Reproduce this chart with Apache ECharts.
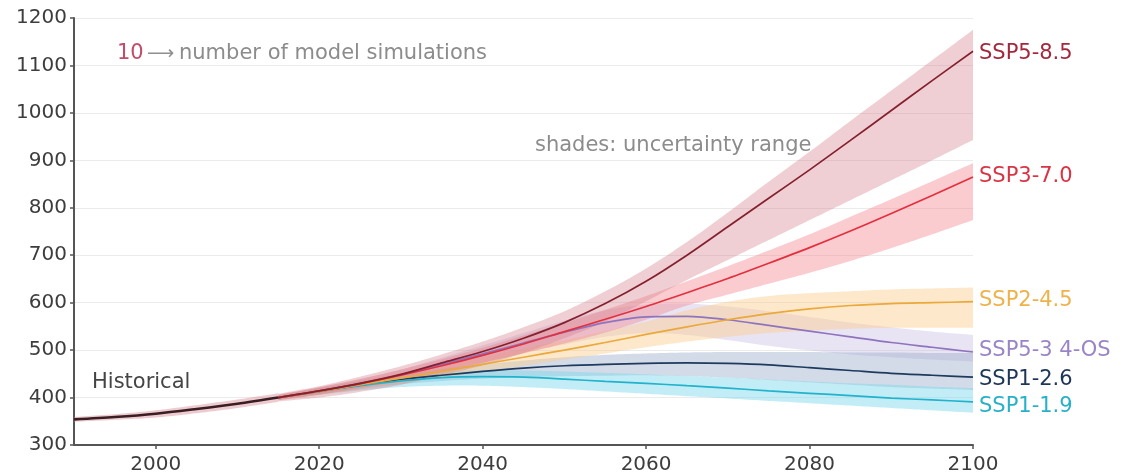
<!DOCTYPE html>
<html>
<head>
<meta charset="utf-8">
<script src="https://cdn.jsdelivr.net/npm/echarts@6/dist/echarts.min.js"></script>
<style>
  html, body { margin: 0; padding: 0; background: #ffffff; }
  #chart { width: 1121px; height: 476px; }
</style>
</head>
<body>
<div id="chart"></div>
<script>
// Atmospheric CO2 concentration (ppm): observed history and SSP scenario projections
const histYears = [1990, 1995, 2000, 2005, 2010, 2015];
const histMid   = [354, 359, 366, 376, 387, 400];
const histLow   = [349, 353, 358, 367, 378, 391];
const histHigh  = [359, 365, 373, 384, 396, 409];

const years = [2015, 2020, 2025, 2030, 2035, 2040, 2045, 2050, 2055, 2060,
               2065, 2070, 2075, 2080, 2085, 2090, 2095, 2100];

const ssp585Mid  = [400, 414, 430, 449, 473, 497, 525, 558, 598, 645, 700, 760, 820, 880, 942, 1005, 1068, 1130];
const ssp585Low  = [392, 400, 412, 427, 447, 468, 494, 525, 560, 603, 648, 690, 732, 774, 816, 858, 900, 943];
const ssp585High = [408, 424, 444, 466, 491, 518, 548, 582, 624, 672, 728, 790, 855, 918, 983, 1047, 1111, 1175];

const ssp370Mid  = [400, 414, 429, 447, 467, 489, 513, 539, 565, 592, 621, 651, 683, 716, 751, 788, 826, 865];
const ssp370Low  = [394, 406, 420, 436, 454, 473, 493, 514, 537, 564, 594, 617, 640, 663, 688, 715, 744, 774];
const ssp370High = [406, 422, 439, 459, 481, 505, 531, 557, 585, 614, 645, 677, 710, 744, 781, 818, 856, 894];

const ssp245Mid  = [400, 413, 427, 441, 455, 470, 485, 500, 516, 533, 549, 564, 577, 587, 594, 598, 600, 602];
const ssp245Low  = [395, 406, 418, 430, 442, 455, 467, 480, 493, 506, 518, 528, 536, 541, 545, 547, 547, 547];
const ssp245High = [405, 420, 436, 452, 468, 485, 503, 521, 540, 560, 584, 602, 614, 620, 624, 628, 630, 632];

const ssp534Mid  = [400, 414, 430, 448, 470, 492, 515, 538, 558, 570, 571, 564, 552, 540, 528, 516, 506, 496];
const ssp534Low  = [395, 407, 421, 437, 456, 474, 494, 512, 528, 536, 532, 521, 509, 499, 491, 485, 480, 476];
const ssp534High = [405, 421, 439, 459, 484, 510, 536, 562, 584, 596, 598, 592, 582, 570, 558, 548, 539, 532];

const ssp126Mid  = [400, 413, 426, 438, 447, 455, 462, 467, 470, 472, 473, 472, 469, 463, 457, 451, 447, 443];
const ssp126Low  = [396, 407, 418, 428, 435, 440, 443, 445, 446, 447, 445, 442, 437, 432, 427, 422, 419, 416];
const ssp126High = [404, 419, 434, 448, 460, 470, 478, 485, 490, 493, 495, 496, 496, 496, 495, 495, 494, 494];

const ssp119Mid  = [400, 413, 425, 435, 442, 444, 443, 439, 434, 430, 425, 420, 414, 409, 404, 399, 395, 391];
const ssp119Low  = [396, 406, 415, 422, 425, 425, 422, 418, 413, 408, 403, 398, 393, 388, 383, 378, 373, 368];
const ssp119High = [404, 420, 434, 446, 454, 458, 457, 455, 452, 449, 445, 442, 438, 434, 430, 427, 423, 420];

const yTicks = [300, 400, 500, 600, 700, 800, 900, 1000, 1100, 1200];
const xTicks = [2000, 2020, 2040, 2060, 2080, 2100];

const FONT = 'DejaVu Sans';

const scenarios = [
  { name: 'SSP5-3 4-OS', mid: ssp534Mid, low: ssp534Low, high: ssp534High,
    line: '#8f74bd', band: 'rgba(196,184,226,0.38)', text: '#9a84c8' },
  { name: 'SSP1-2.6', mid: ssp126Mid, low: ssp126Low, high: ssp126High,
    line: '#1e3a5f', band: 'rgba(150,170,200,0.42)', text: '#1d3656' },
  { name: 'SSP1-1.9', mid: ssp119Mid, low: ssp119Low, high: ssp119High,
    line: '#21b3cc', band: 'rgba(120,214,235,0.45)', text: '#27b0c8' },
  { name: 'SSP2-4.5', mid: ssp245Mid, low: ssp245Low, high: ssp245High,
    line: '#eaa93a', band: 'rgba(250,205,140,0.45)', text: '#efb24a' },
  { name: 'SSP3-7.0', mid: ssp370Mid, low: ssp370Low, high: ssp370High,
    line: '#e3303f', band: 'rgba(242,128,138,0.40)', text: '#d93444' },
  { name: 'SSP5-8.5', mid: ssp585Mid, low: ssp585Low, high: ssp585High,
    line: '#84202f', band: 'rgba(214,130,140,0.38)', text: '#a3283c' }
];

const labelOffsets = {
  'SSP5-8.5': [0, 2], 'SSP3-7.0': [0, 0], 'SSP2-4.5': [0, -1],
  'SSP5-3 4-OS': [0, -1], 'SSP1-2.6': [0, 2], 'SSP1-1.9': [0, 5]
};

function pairs(xs, ys) { return xs.map((x, i) => [x, ys[i]]); }

// Catmull-Rom curve through pixel points, sampled for drawing a smooth edge
function smoothEdge(pts) {
  const out = [];
  const n = pts.length;
  for (let i = 0; i < n - 1; i++) {
    const p0 = pts[Math.max(i - 1, 0)], p1 = pts[i], p2 = pts[i + 1], p3 = pts[Math.min(i + 2, n - 1)];
    for (let s = 0; s < 12; s++) {
      const t = s / 12, t2 = t * t, t3 = t2 * t;
      const f = (a, b, c, d) => 0.5 * ((2 * b) + (-a + c) * t + (2 * a - 5 * b + 4 * c - d) * t2 + (-a + 3 * b - 3 * c + d) * t3);
      out.push([f(p0[0], p1[0], p2[0], p3[0]), f(p0[1], p1[1], p2[1], p3[1])]);
    }
  }
  out.push(pts[n - 1]);
  return out;
}

// uncertainty band drawn as one filled shape between its lower and upper edges
function bandSeries(xs, low, high, color) {
  return {
    type: 'custom', silent: true, z: 1,
    data: xs.map((x, i) => [x, low[i], high[i]]),
    encode: { x: 0, y: [1, 2] },
    renderItem: function (params, api) {
      if (params.dataIndex !== 0) return null;
      const up = xs.map((x, i) => api.coord([x, high[i]]));
      const lo = xs.map((x, i) => api.coord([x, low[i]]));
      const points = smoothEdge(up).concat(smoothEdge(lo).reverse());
      return { type: 'polygon', shape: { points: points }, style: { fill: color, stroke: null } };
    }
  };
}

const series = [];
series.push(bandSeries(histYears, histLow, histHigh, 'rgba(214,140,150,0.45)'));
scenarios.forEach(s => series.push(bandSeries(years, s.low, s.high, s.band)));
scenarios.forEach(s => {
  series.push({
    type: 'line', name: s.name, data: pairs(years, s.mid), symbol: 'none', smooth: 0.3,
    lineStyle: { color: s.line, width: 1.7 }, z: 5, silent: true,
    endLabel: {
      show: true, formatter: s.name, color: s.text, fontSize: 21, fontFamily: FONT,
      distance: 6, offset: labelOffsets[s.name]
    }
  });
});
series.push({
  type: 'line', name: 'Historical', data: pairs(histYears, histMid), symbol: 'none', smooth: 0.3,
  lineStyle: { color: '#3a1e24', width: 2.6 }, z: 6, silent: true
});

const chart = echarts.init(document.getElementById('chart'), null, { renderer: 'canvas' });
chart.setOption({
  animation: false,
  backgroundColor: '#ffffff',
  grid: { left: 74, right: 148, top: 18, bottom: 31, containLabel: false },
  xAxis: {
    type: 'value', min: 1990, max: 2100,
    axisLine: { show: true, lineStyle: { color: '#555555', width: 2 } },
    axisTick: { show: true, length: 4, customValues: xTicks, lineStyle: { color: '#555555', width: 1.5 } },
    axisLabel: { customValues: xTicks, formatter: v => String(v), fontSize: 20, fontFamily: FONT, color: '#3d3d3d', margin: 10 },
    splitLine: { show: false }
  },
  yAxis: {
    type: 'value', min: yTicks[0], max: yTicks[yTicks.length - 1], interval: 100,
    axisLine: { show: true, lineStyle: { color: '#555555', width: 2 } },
    axisTick: { show: true, length: 4, lineStyle: { color: '#555555', width: 1.5 } },
    axisLabel: { formatter: v => String(v), fontSize: 20, fontFamily: FONT, color: '#3d3d3d', margin: 7 },
    splitLine: { show: true, lineStyle: { color: '#ebebeb', width: 1.2 } }
  },
  graphic: [
    { type: 'text', left: 117, top: 56 - 13,
      style: { text: '10', fontSize: 21, fontFamily: FONT, fill: '#c04d69' } },
    { type: 'text', left: 147, top: 56 - 11,
      style: { text: '\u27F6', fontSize: 19, fontFamily: FONT, fill: '#8f8f8f' } },
    { type: 'text', left: 179, top: 56 - 13,
      style: { text: 'number of model simulations', fontSize: 21, fontFamily: FONT, fill: '#8c8c8c' } },
    { type: 'text', left: 535, top: 148 - 13,
      style: { text: 'shades: uncertainty range', fontSize: 21, fontFamily: FONT, fill: '#8c8c8c' } },
    { type: 'text', left: 92, top: 385 - 13,
      style: { text: 'Historical', fontSize: 21, fontFamily: FONT, fill: '#454545' } }
  ],
  series: series
});
</script>
</body>
</html>
